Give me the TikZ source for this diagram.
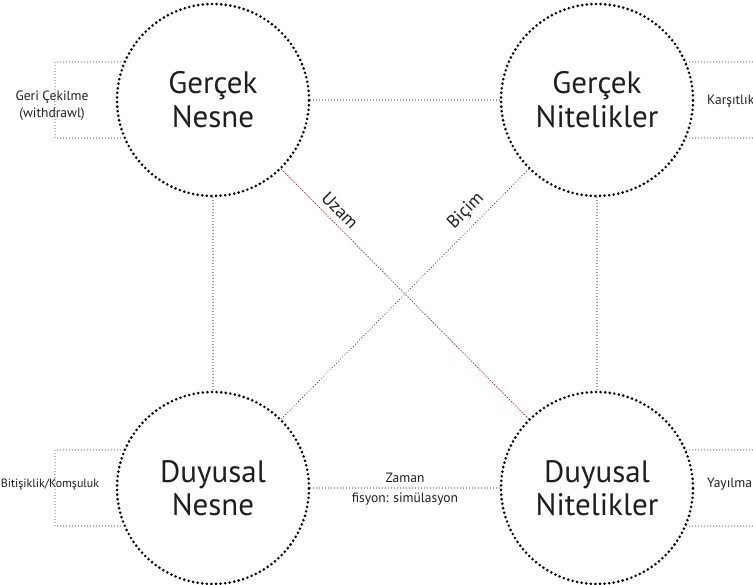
\documentclass[tikz,border=0pt]{standalone}
\usepackage{fontspec}
\setmainfont{PT Sans}
\definecolor{inkdark}{RGB}{30,30,30}
\definecolor{linkgray}{RGB}{65,65,65}
\definecolor{linkred}{RGB}{240,170,170}
\definecolor{linkreddot}{RGB}{120,50,50}
\begin{document}
\begin{tikzpicture}[x=1pt,y=-1pt,
  concept/.style={circle, draw=black, line width=2.9pt,
    dash pattern=on 0pt off 4.6pt, line cap=round, fill=white,
    minimum size=192pt, inner sep=0pt, align=center,
    font=\fontsize{31}{34}\selectfont, text=inkdark},
  link/.style={draw=linkgray, line width=1.15pt,
    dash pattern=on 0pt off 3pt, line cap=round},
  redbase/.style={draw=linkred, line width=0.4pt},
  redlink/.style={draw=linkreddot, line width=1.15pt,
    dash pattern=on 0pt off 3pt, line cap=round},
  tag/.style={font=\fontsize{13.5}{17}\selectfont, text=inkdark, inner sep=0pt, align=center},
  slopetag/.style={font=\fontsize{18}{20}\selectfont, text=inkdark, inner sep=6pt, sloped, above}
]
\useasboundingbox (0,0) rectangle (753,585);
\clip (0,0) rectangle (753,585);

% the four concepts
\node[concept] (GN)   at (213,100) {Gerçek\\Nesne};
\node[concept] (GNit) at (597,100) {Gerçek\\Nitelikler};
\node[concept] (DN)   at (213,488) {\raisebox{-5pt}{\shortstack{Duyusal\\[2pt]Nesne}}};
\node[concept] (DNit) at (597,488) {\raisebox{-5pt}{\shortstack{Duyusal\\[2pt]Nitelikler}}};

% outer ends of the side brackets
\coordinate (boxL) at (55,0);
\coordinate (boxR) at (770,0);

% side brackets
\draw[link] (GN.157) -- (GN.157 -| boxL) -- (GN.203 -| boxL) -- (GN.203);
\draw[link] (DN.157) -- (DN.157 -| boxL) -- (DN.203 -| boxL) -- (DN.203);
\draw[link] (GNit.23) -- (GNit.23 -| boxR) (GNit.-23) -- (GNit.-23 -| boxR);
\draw[link] (DNit.23) -- (DNit.23 -| boxR) (DNit.-23) -- (DNit.-23 -| boxR);

% side labels
\node[tag] (lWithdraw) at (52,106) {Geri Çekilme\\(withdrawl)};
\node[tag, font=\fontsize{12}{15}\selectfont] (lAdjacent) at (50,484) {Bitişiklik/Komşuluk};
\node[tag, anchor=west] (lContrast) at (707,101) {Karşıtlık};
\node[tag, anchor=west] (lSpread) at (707,484) {Yayılma};

% connectors between the concepts
\draw[link] (GN) -- (GNit);
\draw[link] (GN) -- (DN);
\draw[link] (GNit) -- (DNit);
\draw[link] (DN) -- node[tag, above=5pt] (lTime) {Zaman}
                    node[tag, below=4pt] (lFission) {fisyon: simülasyon} (DNit);
\draw[link] (DN) -- node[slopetag, pos=0.79] (lForm) {Biçim} (GNit);
\draw[redbase] (GN) -- (DNit);
\draw[redlink] (GN) -- node[slopetag, pos=0.2] (lExtent) {Uzam} (DNit);
\end{tikzpicture}
\end{document}
